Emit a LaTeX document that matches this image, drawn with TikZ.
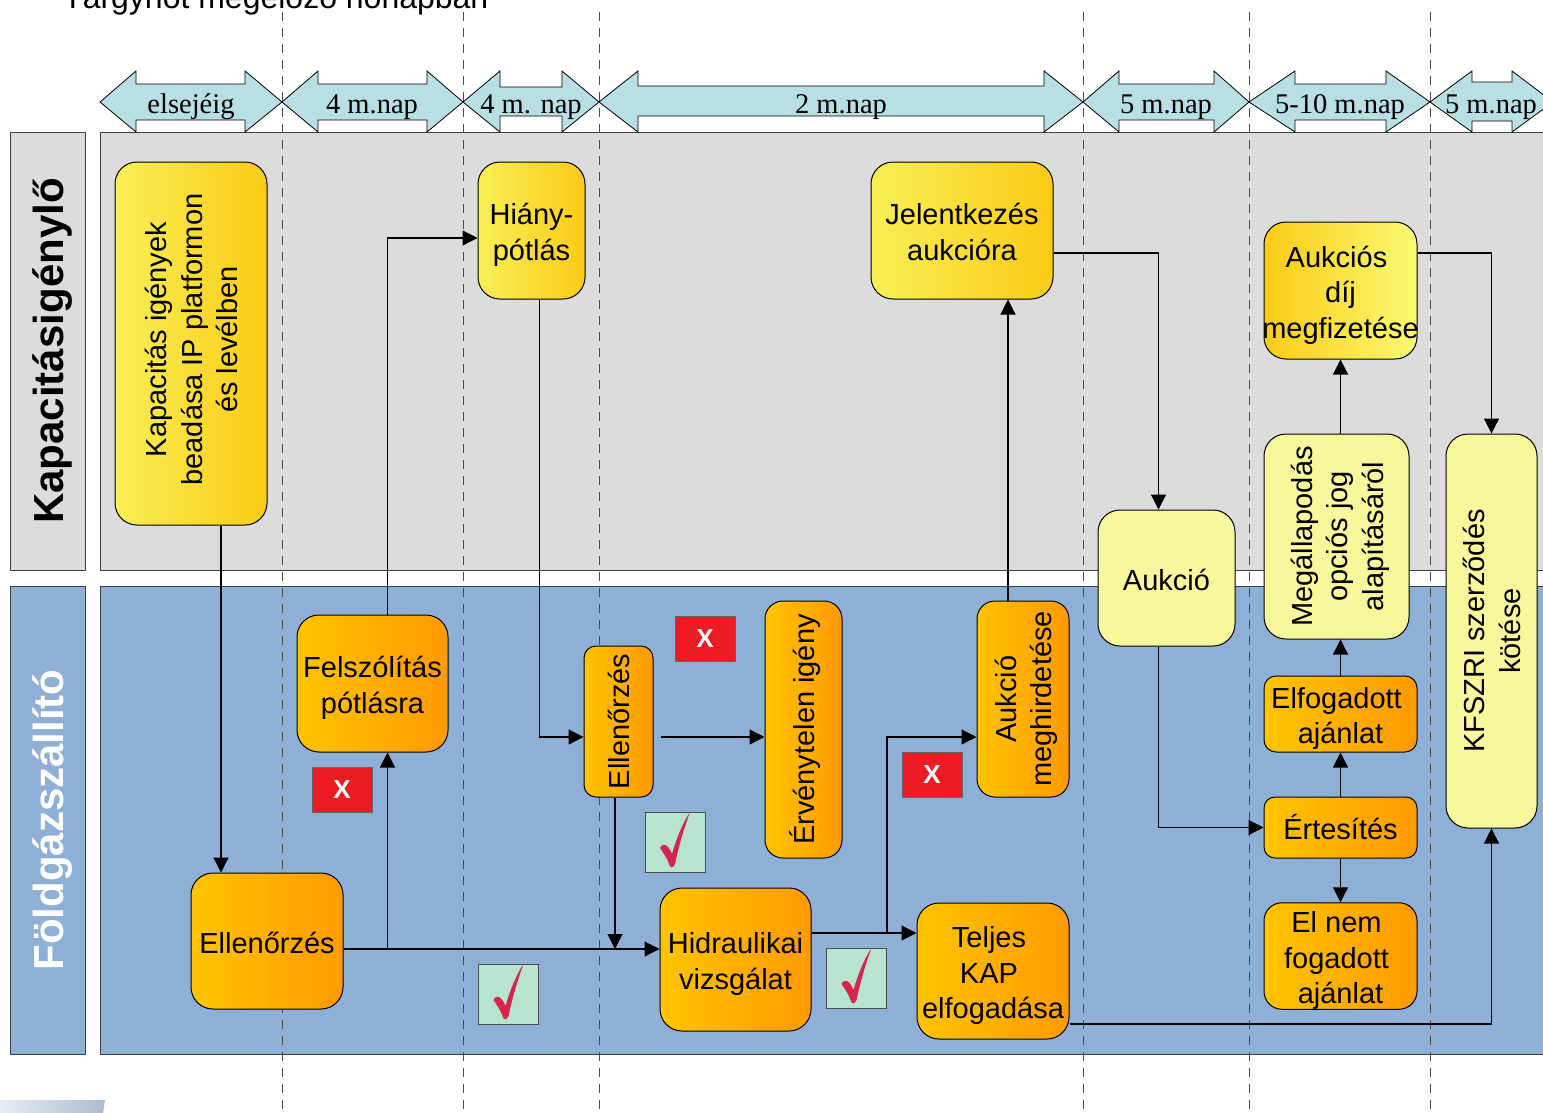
\documentclass[tikz,border=0pt]{standalone}
\usepackage{fontspec}
\setmainfont{Liberation Sans}
\newfontfamily\spanfont{Liberation Serif}
\usetikzlibrary{arrows.meta}
\newcommand{\boxstack}[1]{\begin{tabular}{@{}c@{}}#1\end{tabular}}
\newcommand{\boxlines}[1]{\raisebox{-5pt}[\height][\depth]{\boxstack{#1}}}
\newcommand{\uptext}[1]{\kern8pt\rotatebox{90}{\boxstack{#1}}}

\definecolor{panelgrey}{HTML}{DCDCDC}
\definecolor{panelblue}{HTML}{8FB0D6}
\definecolor{spanblue}{HTML}{B8DFE3}
\definecolor{paleyellow}{HTML}{F7F79B}
\definecolor{tickgreen}{HTML}{B8E4CF}
\definecolor{tickred}{HTML}{D42550}
\definecolor{crossred}{HTML}{ED1C24}
\definecolor{yellowa}{HTML}{F8EF55}
\definecolor{yellowb}{HTML}{FBCB16}
\definecolor{yellowc}{HTML}{FAFA72}
\definecolor{orangea}{HTML}{FFC400}
\definecolor{orangeb}{HTML}{FF9A00}
\definecolor{cornera}{HTML}{E8EDF2}
\definecolor{cornerb}{HTML}{A9BDD1}

\begin{document}
\begin{tikzpicture}[x=1pt,y=-1pt]

\tikzset{proc/.style = {draw,line width=1pt,rounded corners=22pt,inner sep=0pt,font=\fontsize{29}{35.5}\selectfont}}
\tikzset{yellowproc/.style = {proc,left color=yellowa,right color=yellowb}}
\tikzset{orangeproc/.style = {proc,left color=orangea,right color=orangeb}}
\tikzset{paleproc/.style = {proc,fill=paleyellow}}
\tikzset{link/.style = {-{Triangle[length=15pt,width=15pt]},line width=1.2pt}}
\tikzset{span/.style = {draw,fill=spanblue,line width=0.8pt}}
\tikzset{spanlabel/.style = {inner sep=0pt,font=\spanfont\fontsize{28.5}{30}\selectfont}}
\tikzset{timeline/.style = {dashed,dash pattern=on 9pt off 7pt,line width=1pt,black!70}}
\tikzset{lane/.style = {draw=black!75,line width=0.8pt}}
\tikzset{lanelabel/.style = {rotate=90,inner sep=0pt,font=\bfseries\fontsize{42}{44}\selectfont}}
\tikzset{cross/.style = {draw=black!60,fill=crossred,text=white,minimum width=60pt,minimum height=45pt,inner sep=0pt,font=\bfseries\fontsize{26}{30}\selectfont}}
\tikzset{okbox/.style = {draw=black!70,fill=tickgreen,minimum width=60pt,minimum height=60pt,inner sep=0pt}}
\tikzset{tick/.pic = {\fill[tickred] (15,-30) .. controls (7,-8) and (3,8) .. (0,22) .. controls (-2,27) and (-5,26) .. (-6,22) .. controls (-8,16) and (-11,12) .. (-15,6) .. controls (-14,2) and (-9,2) .. (-7,5) .. controls (-5,7) and (-4,10) .. (-3,12) .. controls (1,-2) and (7,-18) .. (15,-30);}}

\useasboundingbox (0,0) rectangle (1543,1112);
\clip (0,0) rectangle (1543,1112);

%title and corner
\node[anchor=base west,inner sep=0pt,font=\fontsize{32}{36}\selectfont] (title) at (63,8) {Tárgyhót megelőző hónapban};
\shade[left color=cornera,right color=cornerb] (-1,1100) -- (105,1100) -- (103,1113) -- (-1,1113) -- cycle;

%lanes
\path[lane,fill=panelgrey] (10,132) rectangle (85,570);
\path[lane,fill=panelgrey] (100,132) rectangle (1560,570);
\path[lane,fill=panelblue] (10,586) rectangle (85,1054);
\path[lane,fill=panelblue] (100,586) rectangle (1560,1054);
\node[lanelabel] (igenylo) at (53,351) {Kapacitásigénylő};
\node[lanelabel,text=white] (szallito) at (53,820) {Földgázszállító};

%time lines
\draw[timeline] (282,12) -- (282,1112);
\draw[timeline] (463,12) -- (463,1112);
\draw[timeline] (599,12) -- (599,1112);
\draw[timeline] (1083,12) -- (1083,1112);
\draw[timeline] (1249,12) -- (1249,1112);
\draw[timeline] (1430,12) -- (1430,1112);

%spans
\path[span] (100,102) -- (136,71) -- (136,84) -- (245,84) -- (245,71) -- (282,102) -- (245,132) -- (245,120) -- (136,120) -- (136,132) -- cycle;
\path[span] (282,102) -- (318,71) -- (318,84) -- (427,84) -- (427,71) -- (463,102) -- (427,132) -- (427,120) -- (318,120) -- (318,132) -- cycle;
\path[span] (463,102) -- (500,71) -- (500,87) -- (562,87) -- (562,71) -- (599,102) -- (562,132) -- (562,116) -- (500,116) -- (500,132) -- cycle;
\path[span] (599,102) -- (638,71) -- (638,86) -- (1044,86) -- (1044,71) -- (1083,102) -- (1044,132) -- (1044,116) -- (638,116) -- (638,132) -- cycle;
\path[span] (1083,102) -- (1119,71) -- (1119,84) -- (1214,84) -- (1214,71) -- (1249,102) -- (1214,132) -- (1214,120) -- (1119,120) -- (1119,132) -- cycle;
\path[span] (1249,102) -- (1295,71) -- (1295,84) -- (1386,84) -- (1386,71) -- (1430,102) -- (1386,132) -- (1386,120) -- (1295,120) -- (1295,132) -- cycle;
\path[span] (1430,102) -- (1472,71) -- (1472,82) -- (1512,82) -- (1512,71) -- (1553,102) -- (1512,132) -- (1512,121) -- (1472,121) -- (1472,132) -- cycle;
\node[spanlabel] (s1) at (191,107) {elsejéig};
\node[spanlabel] (s2) at (372,107) {4 m.nap};
\node[spanlabel] (s3) at (531,107) {4 m. nap};
\node[spanlabel] (s4) at (841,107) {2 m.nap};
\node[spanlabel] (s5) at (1166,107) {5 m.nap};
\node[spanlabel] (s6) at (1340,107) {5-10 m.nap};
\node[spanlabel] (s7) at (1491,107) {5 m.nap};

%upper lane
\node[yellowproc,minimum width=152pt,minimum height=363pt] (kap) at (191,343.5) {\raisebox{4pt}[\height][\depth]{\uptext{Kapacitás igények\\beadása IP platformon\\és levélben}}};
\node[yellowproc,minimum width=107pt,minimum height=137pt] (hia) at (531.5,230.5) {\boxlines{Hiány-\\pótlás}};
\node[yellowproc,minimum width=182pt,minimum height=137pt] (jel) at (962,230.5) {\boxlines{Jelentkezés\\aukcióra}};
\node[proc,left color=yellowb,right color=yellowc,minimum width=153pt,minimum height=137pt] (dij) at (1340.5,290.5) {\boxlines{Aukciós\kern8pt\\díj\\\makebox[0pt]{megfizetése}}};
\node[paleproc,minimum width=145pt,minimum height=205pt] (meg) at (1336.5,536.5) {\uptext{Megállapodás\\opciós jog\\alapításáról}};
\node[paleproc,minimum width=91pt,minimum height=394pt] (kfs) at (1491.5,631) {\uptext{KFSZRI szerződés\\kötése}};
\node[paleproc,minimum width=137pt,minimum height=136pt] (auk) at (1166.5,578) {\boxlines{Aukció}};

%lower lane
\node[orangeproc,minimum width=151pt,minimum height=137pt] (fel) at (372.5,683.5) {\boxlines{Felszólítás\\pótlásra}};
\node[orangeproc,rounded corners=12pt,minimum width=69pt,minimum height=151pt] (elv) at (618.5,721.5) {\uptext{Ellenőrzés}};
\node[orangeproc,rounded corners=18pt,minimum width=77pt,minimum height=257pt] (erv) at (803.5,729.5) {\uptext{Érvénytelen igény}};
\node[orangeproc,rounded corners=18pt,minimum width=92pt,minimum height=196pt] (aum) at (1023,699) {\uptext{Aukció\\meghirdetése}};
\node[orangeproc,rounded corners=12pt,minimum width=153pt,minimum height=76pt] (elf) at (1340.5,714) {\boxlines{Elfogadott\kern8pt\\ajánlat}};
\node[orangeproc,rounded corners=11pt,minimum width=153pt,minimum height=61pt] (ert) at (1340.5,827.5) {\boxlines{Értesítés}};
\node[orangeproc,rounded corners=18pt,minimum width=153pt,minimum height=106pt] (eln) at (1340.5,956) {\boxlines{El nem\kern8pt\\fogadott\kern8pt\\ajánlat}};
\node[orangeproc,minimum width=152pt,minimum height=136pt] (ell) at (267,941) {\boxlines{Ellenőrzés}};
\node[orangeproc,minimum width=151pt,minimum height=143pt] (hid) at (735.5,959.5) {\boxlines{Hidraulikai\\vizsgálat}};
\node[orangeproc,minimum width=152pt,minimum height=136pt] (tel) at (993,971) {\boxlines{Teljes\kern8pt\\KAP\kern8pt\\elfogadása}};

%marks
\node[cross] (x1) at (342,789.5) {X};
\node[cross] (x2) at (705,638.5) {X};
\node[cross] (x3) at (932,774.5) {X};
\node[okbox] (ok1) at (508.5,994) {};
\node[okbox] (ok2) at (675,842) {};
\node[okbox] (ok3) at (856.5,978) {};
\pic at (ok1) {tick};
\pic at (ok2) {tick};
\pic at (ok3) {tick};

%connectors
\coordinate (j1) at (387.5,949);
\coordinate (j2) at (615,949);
\coordinate (j3) at (887,933);
\draw[link] ([xshift=30pt]kap.south) -- ([xshift=-46pt]ell.north);
\draw[link] ([yshift=-8pt]ell.east) -- ([yshift=10.5pt]hid.west);
\draw[link] (j1) -- ([xshift=15pt]fel.south);
\draw[link] ([xshift=15pt]fel.north) |- ([yshift=-7.5pt]hia.west);
\draw[link] ([xshift=8pt]hia.south) |- ([yshift=-15.5pt]elv.west);
\draw[link] ([xshift=7pt,yshift=-15.5pt]elv.east) -- ([yshift=-7.5pt]erv.west);
\draw[link] ([xshift=-3.5pt]elv.south) -- (j2);
\draw[link] ([yshift=26.5pt]hid.east) -- ([yshift=38pt]tel.west);
\draw[link] (j3) |- ([yshift=-38pt]aum.west);
\draw[link] ([xshift=-15pt]aum.north) -- ([xshift=46pt]jel.south);
\draw[link] ([yshift=-22.5pt]jel.east) -| ([xshift=-8pt]auk.north);
\draw[link] ([xshift=-8pt]auk.south) |- (ert.west);
\draw[link] (ert.north) -- (elf.south);
\draw[link] (elf.north) -- ([xshift=4pt]meg.south);
\draw[link] ([xshift=4pt]meg.north) -- (dij.south);
\draw[link] (ert.south) -- (eln.north);
\draw[link] ([yshift=37.5pt]dij.east) -| (kfs.north);
\draw[link] ([yshift=-53pt]tel.east) -| (kfs.south);

\end{tikzpicture}
\end{document}
